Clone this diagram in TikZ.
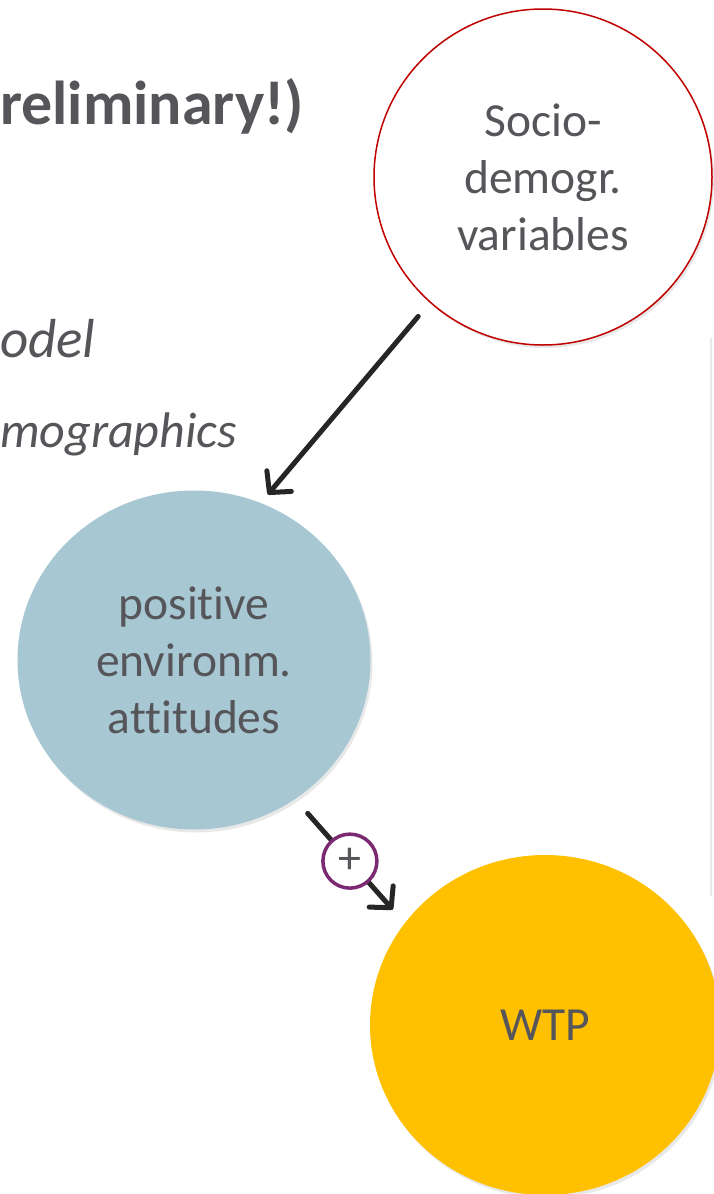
\documentclass[tikz,border=0pt]{standalone}
\usepackage{fontspec}
\setmainfont{Carlito}[Ligatures=NoCommon]
\usetikzlibrary{arrows.meta,shadows,shapes.geometric}
\definecolor{txtgrey}{HTML}{56565A}
\definecolor{socred}{HTML}{C00000}
\definecolor{attblue}{HTML}{A7C7D3}
\definecolor{wtpyellow}{HTML}{FFC000}
\definecolor{plumline}{HTML}{7B2A72}
\definecolor{arrowdark}{HTML}{262626}

\begin{document}
\begin{tikzpicture}[x=1pt,y=-1pt,
  bubble/.style={ellipse,minimum width=344pt,minimum height=340pt,inner sep=0pt,align=center,text=txtgrey,
    font=\fontsize{47.5}{57}\selectfont,
    drop shadow={opacity=0.18,shadow xshift=2pt,shadow yshift=-3pt}},
  signnode/.style={circle,draw=plumline,line width=3.5pt,fill=white,minimum size=54pt,
    inner sep=0pt,text=txtgrey,font=\fontsize{46}{46}\selectfont},
  effect/.style={draw=arrowdark,line width=5pt,line cap=round,
    -{Straight Barb[length=15pt,width=32pt,line width=5pt,round]}}]
\clip (0,0) rectangle (714,1194);
\useasboundingbox (0,0) rectangle (714,1194);

\draw [color=black!9, line width=2pt] (711,338) -- (711,896);

\node [anchor=base west, inner sep=0pt, text=txtgrey, font=\fontsize{62}{64}\selectfont\bfseries] (title) at (0,124) {reliminary!)};
\node [anchor=base west, inner sep=0pt, text=txtgrey, font=\fontsize{55}{58}\selectfont\itshape] (model) at (0,357) {odel};
\node [anchor=base west, inner sep=0pt, text=txtgrey, font=\fontsize{50}{54}\selectfont\itshape] (demo) at (0,447) {mographics};

\node [bubble, draw=socred, line width=1.5pt, fill=white, minimum width=338pt, minimum height=336pt] (socio) at (543,177) {Socio-\\demogr.\\variables};
\node [bubble, fill=attblue, minimum width=353pt, minimum height=339pt] (attitudes) at (194,660) {positive\\environm.\\attitudes};
\node [bubble, fill=wtpyellow, minimum width=350pt, minimum height=340pt] (wtp) at (545,1025) {WTP};

\draw [effect, shorten <=18pt, shorten >=11pt] (socio.228) -- (attitudes.67);
\draw [effect, shorten <=19pt, shorten >=18pt] (attitudes.-54) -- (wtp.144)
  node [signnode, midway] (plus) {+};
\end{tikzpicture}
\end{document}
